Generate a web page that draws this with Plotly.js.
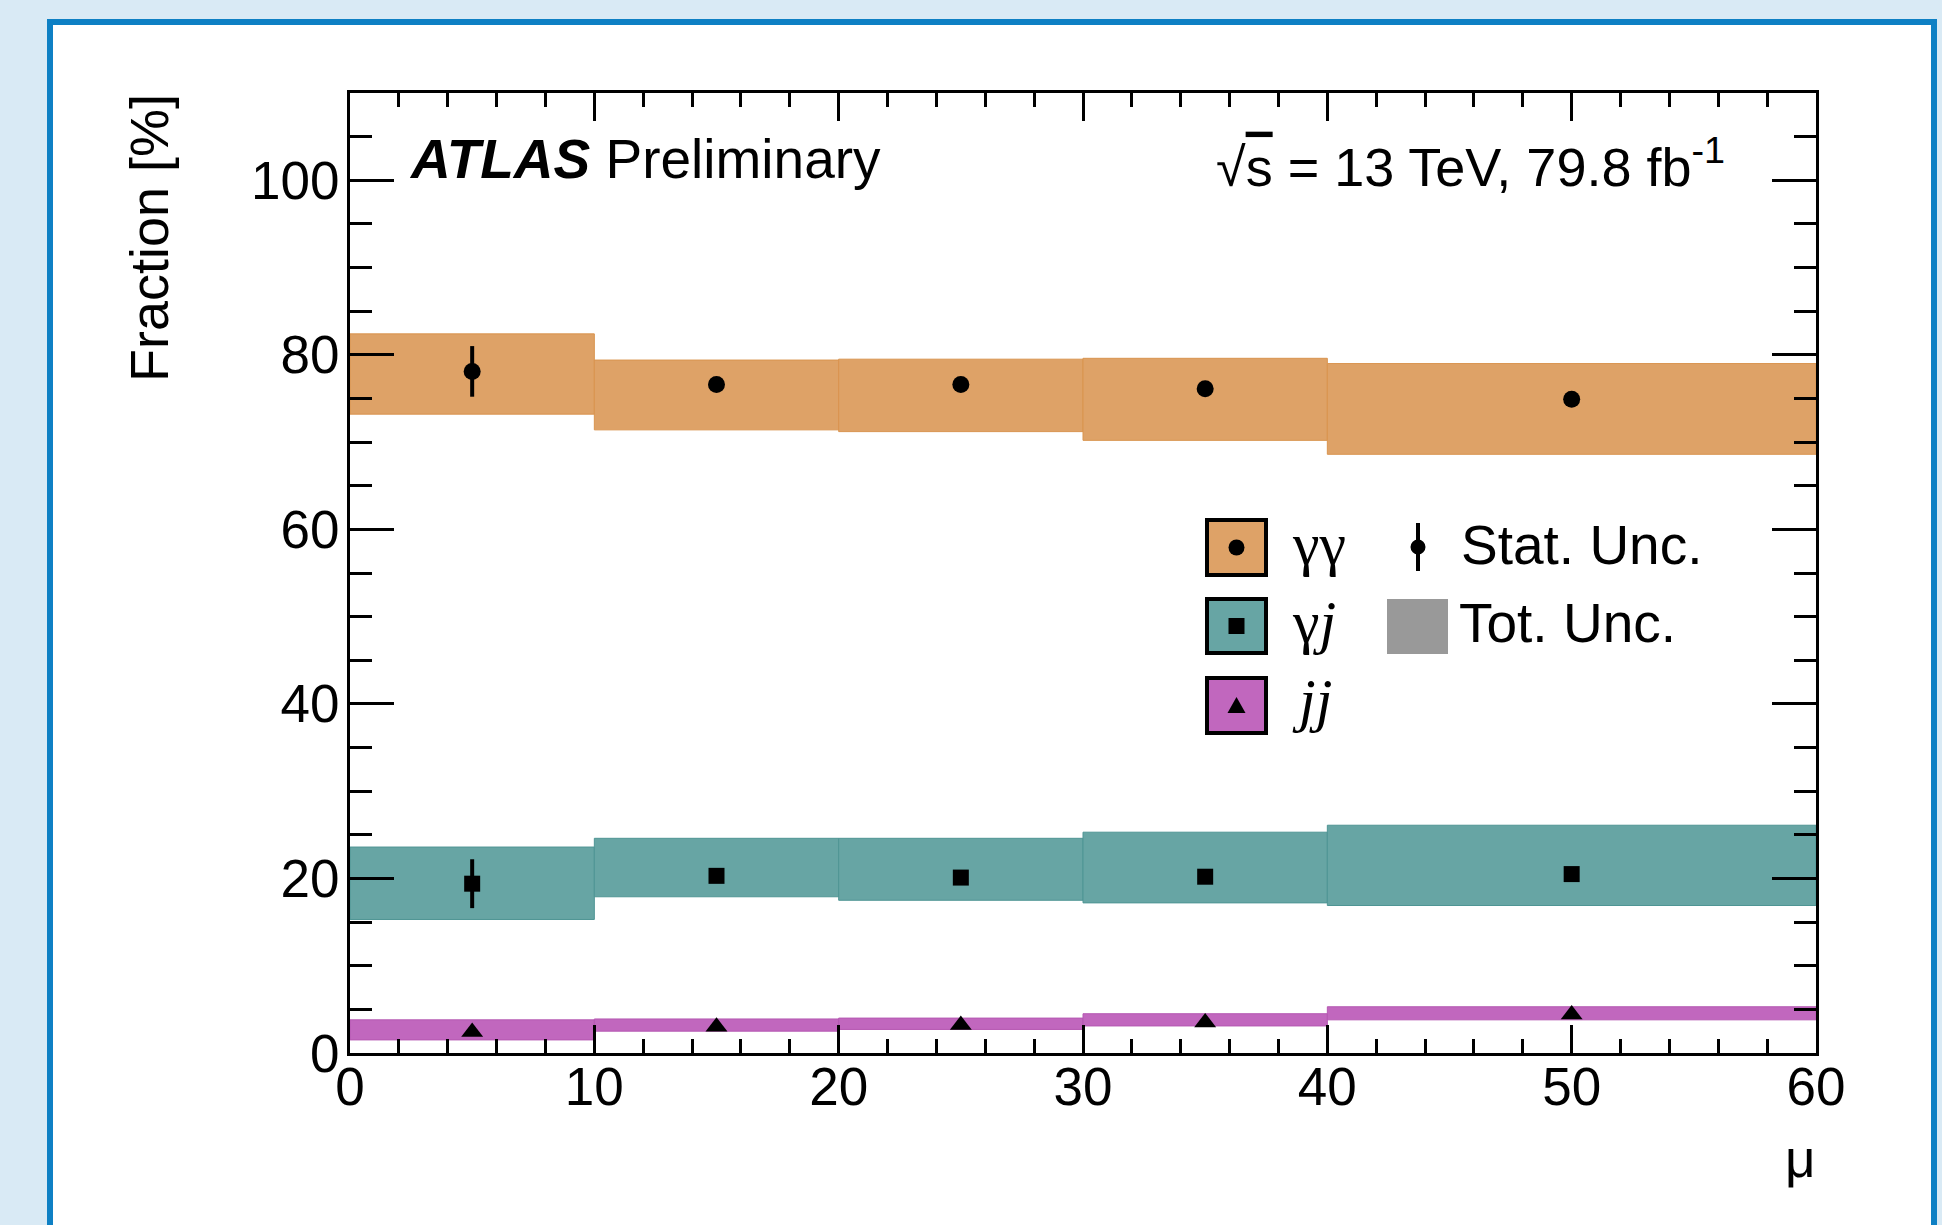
<!DOCTYPE html>
<html>
<head>
<meta charset="utf-8">
<script src="https://cdn.plot.ly/plotly-3.0.1.min.js"></script>
<style>
  html, body { margin:0; padding:0; width:1942px; height:1225px; overflow:hidden; background:#d9eaf5; }
  #card { position:absolute; left:47px; top:19px; width:1890px; height:1300px; box-sizing:border-box;
          border:6px solid #0e80c4; background:#ffffff; }
  #chart { position:absolute; left:0; top:0; width:1942px; height:1225px; }
</style>
</head>
<body>
<div id="card"></div>
<div id="chart"></div>
<script>
// ---- data ----
const binLow  = [0, 10, 20, 30, 40];
const binHigh = [10, 20, 30, 40, 60];
const muCenter = [5, 15, 25, 35, 50];

const ggValue   = [78.1, 76.6, 76.6, 76.1, 74.9];
const ggTotLow  = [73.2, 71.4, 71.2, 70.2, 68.6];
const ggTotHigh = [82.4, 79.4, 79.5, 79.6, 79.0];
const ggStat    = [2.9, 0.6, 0.6, 0.6, 0.6];

const gjValue   = [19.4, 20.3, 20.1, 20.2, 20.5];
const gjTotLow  = [15.3, 17.9, 17.5, 17.2, 16.9];
const gjTotHigh = [23.6, 24.6, 24.6, 25.3, 26.1];
const gjStat    = [2.8, 0.6, 0.6, 0.6, 0.6];

const jjValue   = [2.4, 3.0, 3.2, 3.5, 4.4];
const jjTotLow  = [1.5, 2.5, 2.7, 3.1, 3.8];
const jjTotHigh = [3.8, 3.9, 4.0, 4.5, 5.3];
const jjStat    = [0.4, 0.4, 0.4, 0.4, 0.4];

const xTickVals = [0, 10, 20, 30, 40, 50, 60];
const yTickVals = [0, 20, 40, 60, 80, 100];

// ---- styling ----
const cGG = '#dea267', cGJ = '#67a5a4', cJJ = '#c167be', cTot = '#999999';
const SANS = 'Liberation Sans, Arial, Helvetica, sans-serif';
const SERIF = 'Liberation Serif, Times New Roman, serif';

// plot area in pixels
const L = 350, R = 1816, T = 93, B = 1053;
const W = 1942, H = 1225;
function px(x) { return (x - L) / (R - L); }
function py(y) { return (B - y) / (B - T); }

const binMid = binLow.map((l, i) => (l + binHigh[i]) / 2);
const binWid = binLow.map((l, i) => binHigh[i] - l);

function band(low, high, color, line) {
  return {
    type: 'bar', x: binMid, width: binWid, base: low,
    y: high.map((h, i) => h - low[i]),
    marker: { color: color, line: { width: 1, color: line } },
    hoverinfo: 'skip', showlegend: false
  };
}
function points(vals, stat, symbol, size) {
  return {
    type: 'scatter', mode: 'markers', x: muCenter, y: vals,
    marker: { symbol: symbol, size: size, color: '#000000', line: { width: 0 } },
    error_y: { type: 'data', array: stat, visible: true, thickness: 4, width: 0, color: '#000000' },
    hoverinfo: 'skip', showlegend: false, cliponaxis: false
  };
}

const traces = [
  band(ggTotLow, ggTotHigh, cGG, '#d9944f'),
  band(gjTotLow, gjTotHigh, cGJ, '#4f9594'),
  band(jjTotLow, jjTotHigh, cJJ, '#b558b2'),
  points(ggValue, ggStat, 'circle', 17),
  points(gjValue, gjStat, 'square', 16),
  points(jjValue, jjStat, 'triangle-up', 19)
];

// ---- legend (drawn as layout decorations) ----
const shapes = [];
const annotations = [];
const boxX0 = 1207, boxX1 = 1266;
const rows = [
  { top: 520, bot: 575, color: cGG, label: 'γγ', base: 565 },
  { top: 599, bot: 653, color: cGJ, label: 'γ<i>j</i>', base: 643 },
  { top: 678, bot: 733, color: cJJ, label: '<i>jj</i>', base: 721 }
];
rows.forEach(r => {
  shapes.push({ type: 'rect', xref: 'paper', yref: 'paper',
    x0: px(boxX0), x1: px(boxX1), y0: py(r.bot), y1: py(r.top),
    fillcolor: r.color, line: { color: '#000000', width: 4 }, layer: 'above' });
  annotations.push({ xref: 'paper', yref: 'paper', x: px(1290), y: py(r.base + 0.216 * 60 + 1),
    xanchor: 'left', yanchor: 'bottom', text: r.label, showarrow: false,
    font: { family: SERIF, size: 60, color: '#000' } });
});
const cx = (boxX0 + boxX1) / 2;
// circle
shapes.push({ type: 'circle', xref: 'paper', yref: 'paper',
  x0: px(cx - 8), x1: px(cx + 8), y0: py(547.5 + 8), y1: py(547.5 - 8),
  fillcolor: '#000', line: { width: 0 }, layer: 'above' });
// square
shapes.push({ type: 'rect', xref: 'paper', yref: 'paper',
  x0: px(cx - 8), x1: px(cx + 8), y0: py(626 + 8), y1: py(626 - 8),
  fillcolor: '#000', line: { width: 0 }, layer: 'above' });
// triangle
shapes.push({ type: 'path', xref: 'paper', yref: 'paper',
  path: 'M' + px(cx - 9) + ',' + py(713) + ' L' + px(cx + 9) + ',' + py(713) + ' L' + px(cx) + ',' + py(697) + ' Z',
  fillcolor: '#000', line: { width: 0 }, layer: 'above' });
// Stat. Unc. symbol
shapes.push({ type: 'line', xref: 'paper', yref: 'paper',
  x0: px(1418), x1: px(1418), y0: py(523), y1: py(571),
  line: { color: '#000', width: 4 }, layer: 'above' });
shapes.push({ type: 'circle', xref: 'paper', yref: 'paper',
  x0: px(1418 - 7.5), x1: px(1418 + 7.5), y0: py(547 + 7.5), y1: py(547 - 7.5),
  fillcolor: '#000', line: { width: 0 }, layer: 'above' });
// Tot. Unc. symbol
shapes.push({ type: 'rect', xref: 'paper', yref: 'paper',
  x0: px(1387), x1: px(1448), y0: py(654), y1: py(599),
  fillcolor: cTot, line: { width: 0 }, layer: 'above' });
annotations.push({ xref: 'paper', yref: 'paper', x: px(1459), y: py(565 + 0.212 * 55 + 1),
  xanchor: 'left', yanchor: 'bottom', text: 'Stat. Unc.', showarrow: false,
  font: { family: SANS, size: 55, color: '#000' } });
annotations.push({ xref: 'paper', yref: 'paper', x: px(1457), y: py(643 + 0.212 * 55 + 1),
  xanchor: 'left', yanchor: 'bottom', text: 'Tot. Unc.', showarrow: false,
  font: { family: SANS, size: 55, color: '#000' } });

// ---- labels ----
annotations.push({ xref: 'paper', yref: 'paper', x: px(407), y: py(179 + 0.212 * 55 + 1),
  xanchor: 'left', yanchor: 'bottom', text: '<b><i>ATLAS</i></b> Preliminary', showarrow: false,
  font: { family: SANS, size: 55, color: '#000' } });
annotations.push({ xref: 'paper', yref: 'paper', x: px(1214), y: py(187 + 0.212 * 54 + 1),
  xanchor: 'left', yanchor: 'bottom', text: '√<span style="text-decoration:overline">s</span> = 13 TeV, 79.8 fb<sup>-1</sup>', showarrow: false,
  font: { family: SANS, size: 54, color: '#000' } });
// axis titles (ROOT style, at the axis ends)
annotations.push({ xref: 'paper', yref: 'paper', x: px(149), y: py(92),
  xanchor: 'center', yanchor: 'top', textangle: -90, text: 'Fraction [%]', showarrow: false,
  font: { family: SANS, size: 54, color: '#000' } });
annotations.push({ xref: 'paper', yref: 'paper', x: px(1818), y: py(1178 + 0.212 * 53 + 1),
  xanchor: 'right', yanchor: 'bottom', text: 'μ', showarrow: false,
  font: { family: SANS, size: 53, color: '#000' } });

const axisCommon = {
  showline: true, linecolor: '#000', linewidth: 3, mirror: 'ticks',
  ticks: 'inside', tickcolor: '#000', tickwidth: 3,
  showgrid: false, zeroline: false, fixedrange: true,
  tickfont: { family: SANS, size: 53, color: '#000' }
};

const layout = {
  width: W, height: H,
  margin: { l: L, r: W - R, t: T, b: H - B, pad: 0 },
  paper_bgcolor: 'rgba(0,0,0,0)', plot_bgcolor: 'rgba(0,0,0,0)',
  showlegend: false, barmode: 'overlay',
  xaxis: Object.assign({}, axisCommon, {
    range: [0, 60], tickmode: 'array', tickvals: xTickVals, ticktext: xTickVals.map(String),
    ticklen: 28, ticklabelstandoff: -15,
    minor: { dtick: 2, tick0: 0, ticks: 'inside', ticklen: 14, tickwidth: 3, tickcolor: '#000', showgrid: false }
  }),
  yaxis: Object.assign({}, axisCommon, {
    range: [0, 110], tickmode: 'array', tickvals: yTickVals, ticktext: yTickVals.map(String),
    ticklen: 44, ticklabelstandoff: -3,
    minor: { dtick: 5, tick0: 0, ticks: 'inside', ticklen: 22, tickwidth: 3, tickcolor: '#000', showgrid: false }
  }),
  shapes: shapes,
  annotations: annotations
};

Plotly.newPlot('chart', traces, layout, { displayModeBar: false, staticPlot: true });
</script>
</body>
</html>
